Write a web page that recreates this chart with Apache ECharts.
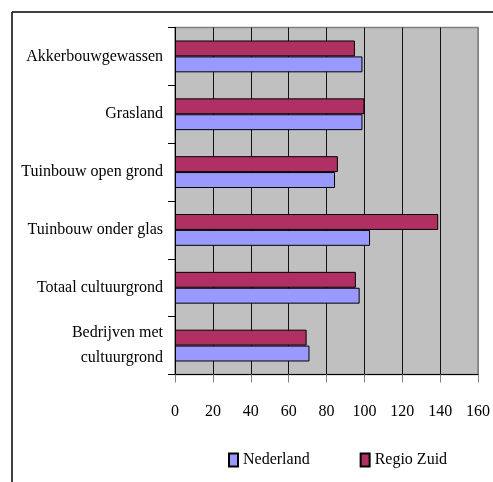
<!DOCTYPE html>
<html><head><meta charset="utf-8">
<script src="https://cdn.jsdelivr.net/npm/echarts@6/dist/echarts.min.js"></script>
<style>html,body{margin:0;padding:0;background:#fff}#c{width:493px;height:482px}</style>
</head><body><div id="c"></div>
<script>
const categories = ['Akkerbouwgewassen','Grasland','Tuinbouw open grond','Tuinbouw onder glas','Totaal cultuurgrond','Bedrijven met\ncultuurgrond'];
const nederland = [99, 99, 84.5, 103, 97.5, 71];
const regioZuid = [95, 100, 86, 139, 95.5, 69.5];
const xTicks = {min: 0, max: 160, interval: 20};
const font = 'Liberation Serif';
const chart = echarts.init(document.getElementById('c'), null, {renderer: 'canvas'});
chart.setOption({
  animation: false,
  backgroundColor: '#fff',
  graphic: [
    {type: 'line', shape: {x1: 12, y1: 12, x2: 493, y2: 12}, style: {stroke: '#000', lineWidth: 1.5}},
    {type: 'line', shape: {x1: 12, y1: 12, x2: 12, y2: 482}, style: {stroke: '#000', lineWidth: 1.5}}
  ],
  grid: {left: 175, right: 14.5, top: 27.5, bottom: 107.5, show: true, backgroundColor: '#c0c0c0', borderColor: '#808080', borderWidth: 1.5},
  legend: {
    left: 228, top: 452, padding: 0, itemWidth: 9, itemHeight: 13, itemGap: 50,
    icon: 'rect',
    textStyle: {fontFamily: font, fontSize: 16, color: '#000'},
    data: ['Nederland', 'Regio Zuid']
  },
  xAxis: {
    type: 'value', min: xTicks.min, max: xTicks.max, interval: xTicks.interval,
    axisLine: {show: true, lineStyle: {color: '#000', width: 1}},
    axisTick: {show: true, length: 8, lineStyle: {color: '#808080'}},
    axisLabel: {fontFamily: font, fontSize: 16, color: '#000', margin: 29},
    splitLine: {show: true, lineStyle: {color: ['#111','#111','#111','#111','#111','#111','#111','#111','#808080'], width: 1}}
  },
  yAxis: {
    type: 'category', inverse: true, data: categories,
    axisLine: {show: true, lineStyle: {color: '#000'}},
    axisTick: {show: true, length: 7, lineStyle: {color: '#000'}},
    axisLabel: {fontFamily: font, fontSize: 16, color: '#000', margin: 12, lineHeight: 25}
  },
  series: [
    {name: 'Regio Zuid', type: 'bar', data: regioZuid, barGap: '0%', barCategoryGap: '45%',
     itemStyle: {color: '#b03064', borderColor: '#000', borderWidth: 1}},
    {name: 'Nederland', type: 'bar', data: nederland, barGap: '0%', barCategoryGap: '45%',
     itemStyle: {color: '#9999ff', borderColor: '#000', borderWidth: 1}}
  ]
});
</script></body></html>
